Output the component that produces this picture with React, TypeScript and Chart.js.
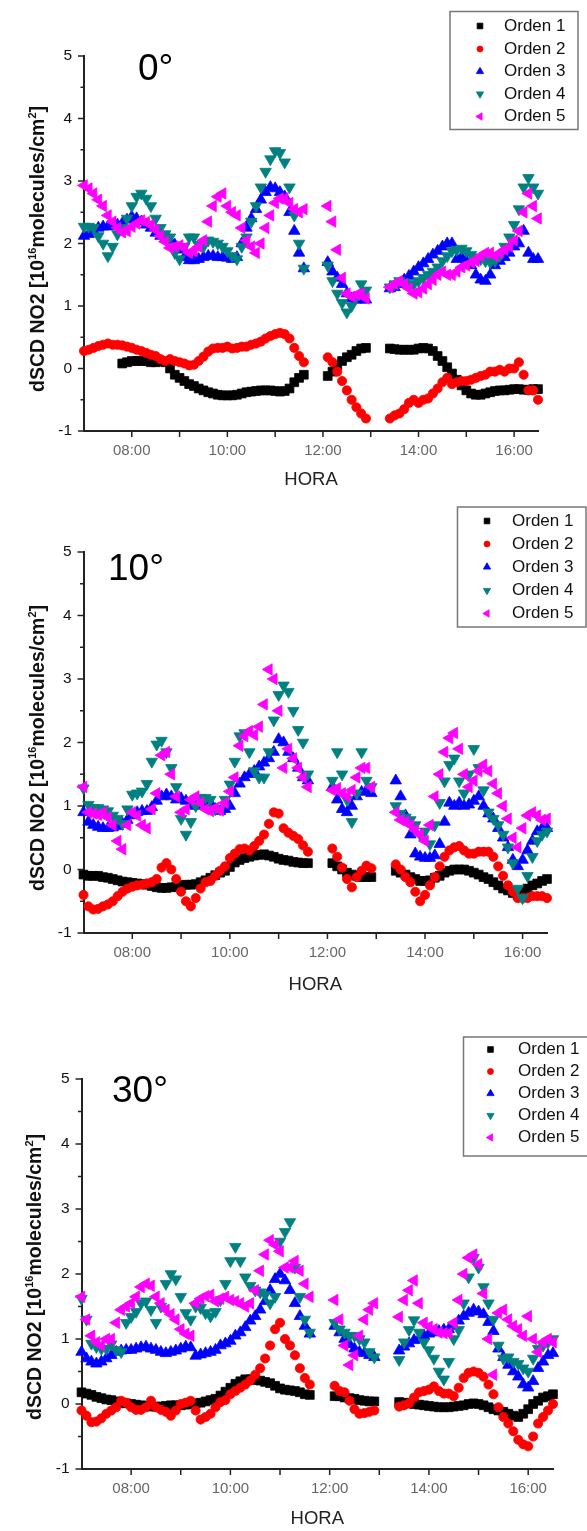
import React, { useEffect, useRef } from "react";
import { Chart, registerables } from "chart.js";
import { drawPoint } from "chart.js/helpers";

Chart.register(...registerables);

// ---------- DATA ----------
const HOURS = [
  7.0, 7.1, 7.2, 7.3, 7.4, 7.5, 7.6, 7.7, 7.8, 7.9,
  8.0, 8.1, 8.2, 8.3, 8.4, 8.5, 8.6, 8.7, 8.8, 8.9,
  9.0, 9.1, 9.2, 9.3, 9.4, 9.5, 9.6, 9.7, 9.8, 9.9,
  10.0, 10.1, 10.2, 10.3, 10.4, 10.5, 10.6, 10.7, 10.8, 10.9,
  11.0, 11.1, 11.2, 11.3, 11.4, 11.5, 11.6,
  12.1, 12.2, 12.3, 12.4, 12.5, 12.6, 12.7, 12.8, 12.9,
  13.4, 13.5, 13.6, 13.7, 13.8, 13.9,
  14.0, 14.1, 14.2, 14.3, 14.4, 14.5, 14.6, 14.7, 14.8, 14.9,
  15.0, 15.1, 15.2, 15.3, 15.4, 15.5, 15.6, 15.7, 15.8, 15.9,
  16.0, 16.1, 16.2, 16.3, 16.4, 16.5,
];

const SERIES_NAMES = ["Orden 1", "Orden 2", "Orden 3", "Orden 4", "Orden 5"];
const PANEL_TITLES = ["0°", "10°", "30°"];
const Y_LABEL_VALUES = [-1, 0, 1, 2, 3, 4, 5];
const X_TICK_HOURS = [7, 8, 9, 10, 11, 12, 13, 14, 15, 16];
const X_LABEL_HOURS = [8, 10, 12, 14, 16];
const X_TICK_LABELS = ["08:00", "10:00", "12:00", "14:00", "16:00"];
const X_AXIS_TITLE = "HORA";

// Panel 0° ---------------------------------------------------------------
const P0_ORDEN1 = [
  null, null, null, null, null, null, null, null, 0.08, 0.1,
  0.12, 0.12, 0.12, 0.12, 0.1, 0.1, 0.12, 0.1, 0.0, -0.1,
  -0.15, -0.2, -0.25, -0.28, -0.32, -0.35, -0.38, -0.4, -0.42, -0.43,
  -0.43, -0.43, -0.42, -0.4, -0.38, -0.37, -0.36, -0.35, -0.35, -0.35,
  -0.36, -0.37, -0.36, -0.32, -0.22, -0.15, -0.1,
  -0.12, -0.05, 0.05, 0.12, 0.18, 0.22, 0.28, 0.32, 0.33,
  0.32, 0.31, 0.3, 0.3, 0.3, 0.3,
  0.32, 0.33, 0.32, 0.28, 0.2, 0.12, 0.02, -0.08, -0.18, -0.27,
  -0.35, -0.4, -0.42, -0.42, -0.4, -0.38, -0.36, -0.35, -0.35, -0.34,
  -0.33, -0.33, -0.34, -0.34, -0.33, -0.33,
];
const P0_ORDEN2 = [
  0.28, 0.3, 0.33, 0.36, 0.38, 0.4, 0.38, 0.38, 0.37, 0.35,
  0.33, 0.3, 0.28, 0.25, 0.22, 0.2, 0.15, 0.12, 0.15, 0.12,
  0.1, 0.08, 0.05, 0.06, 0.12, 0.19, 0.27, 0.32, 0.33, 0.33,
  0.35, 0.32, 0.33, 0.35, 0.35, 0.38, 0.4, 0.43, 0.48, 0.52,
  0.55, 0.57, 0.55, 0.48, 0.33, 0.2, 0.1,
  0.18, 0.1, -0.05, -0.2, -0.35, -0.5, -0.62, -0.72, -0.8,
  -0.8, -0.75, -0.72, -0.65, -0.55, -0.5,
  -0.55, -0.5, -0.48, -0.4, -0.32, -0.22, -0.15, -0.25, -0.22, -0.2,
  -0.2, -0.18, -0.15, -0.12, -0.1, -0.05, -0.05, -0.02, -0.05, 0.0,
  0.0, 0.1, -0.1, -0.35, -0.35, -0.5,
];
const P0_ORDEN3 = [
  2.12, 2.15, 2.2, 2.25, 2.27, 2.27, 2.28, 2.3, 2.32, 2.38,
  2.43, 2.4, 2.35, 2.3, 2.25, 2.17, 2.12, 2.08, 2.05, 1.98,
  1.9, 1.78, 1.73, 1.73, 1.75, 1.78, 1.8, 1.8, 1.78, 1.78,
  1.77, 1.75, 1.78, 2.0, 2.25, 2.4, 2.55, 2.7, 2.82, 2.9,
  2.88, 2.82, 2.75, 2.5, 2.2, 1.85, 1.6,
  1.7, 1.55, 1.45, 1.35, 1.2, 1.12, 1.1, 1.1, 1.1,
  1.28, 1.3, 1.35, 1.42, 1.48, 1.55,
  1.62, 1.68, 1.75, 1.82, 1.88, 1.95, 2.0, 2.0, 1.75, 1.78,
  1.72, 1.65, 1.5, 1.42, 1.4, 1.5, 1.65, 1.72, 1.78, 1.85,
  1.95, 2.0, 2.2, 1.85, 1.75, 1.75,
];
const P0_ORDEN4 = [
  2.27, 2.27, 2.25, 2.12, 2.0, 1.8, 1.95, 2.15, 2.25, 2.4,
  2.6, 2.75, 2.8, 2.72, 2.6, 2.4, 2.25, 2.15, 2.1, 1.85,
  1.75, 1.95, 2.1, 2.1, 1.98, 1.95, 2.05, 2.03, 2.0, 1.95,
  1.88, 1.8, 1.75, 1.95, 2.1, 2.35, 2.6, 2.9, 3.15, 3.35,
  3.48, 3.45, 3.3, 2.9, 2.45, 2.0, 1.6,
  1.65, 1.4, 1.2, 1.05, 0.9, 1.0, 1.15, 1.35, 1.25,
  1.3, 1.35, 1.4, 1.38, 1.35, 1.35,
  1.4, 1.45, 1.5, 1.55, 1.62, 1.72, 1.8, 1.88, 1.9, 1.92,
  1.88, 1.82, 1.78, 1.75, 1.72, 1.7, 1.72, 1.8, 1.95, 2.1,
  2.3, 2.55, 2.9, 3.05, 2.9, 2.8,
];
const P0_ORDEN5 = [
  2.93, 2.88, 2.8, 2.7, 2.6, 2.45, 2.35, 2.25, 2.18, 2.2,
  2.27, 2.32, 2.37, 2.34, 2.3, 2.22, 2.12, 2.03, 1.93, 1.95,
  1.97, 1.93, 1.85, 1.88, 1.95, 2.05, 2.35, 2.6, 2.75, 2.8,
  2.6, 2.5, 2.45, 2.25, 2.05, 1.95, 1.85, 2.0, 2.25, 2.45,
  2.65, 2.72, 2.72, 2.65, 2.55, 2.5, 2.55,
  2.6, 2.35, 1.9, 1.45, 1.2, 1.15, 1.18, 1.2, 1.12,
  1.3, 1.35, 1.4, 1.35, 1.28, 1.2,
  1.22, 1.28, 1.35, 1.42, 1.5, 1.55, 1.5, 1.5, 1.55, 1.62,
  1.65, 1.7, 1.72, 1.8, 1.85, 1.85, 1.8, 1.85, 1.9, 1.95,
  2.05, 2.2, 2.5, 2.8, 2.6, 2.4,
];

// Panel 10° --------------------------------------------------------------
const P1_ORDEN1 = [
  -0.08, -0.1, -0.1, -0.1, -0.12, -0.13, -0.15, -0.17, -0.19, -0.2,
  -0.21, -0.22, -0.23, -0.24, -0.26, -0.28, -0.29, -0.29, -0.28, -0.27,
  -0.25, -0.24, -0.24, -0.23, -0.2, -0.17, -0.13, -0.09, -0.05, -0.02,
  0.04, 0.11, 0.15, 0.18, 0.2, 0.22, 0.23, 0.24, 0.22, 0.2,
  0.17, 0.15, 0.14, 0.12, 0.11, 0.1, 0.1,
  0.1, 0.05, 0.0, -0.05, -0.08, -0.1, -0.12, -0.12, -0.12,
  -0.02, -0.05, -0.08, -0.12, -0.15, -0.18,
  -0.18, -0.17, -0.13, -0.1, -0.05, -0.02, 0.0, 0.0, 0.0, -0.02,
  -0.05, -0.08, -0.12, -0.15, -0.2, -0.25, -0.3, -0.33, -0.37, -0.4,
  -0.35, -0.3, -0.25, -0.22, -0.18, -0.15,
];
const P1_ORDEN2 = [
  -0.4, -0.58, -0.63, -0.62, -0.58, -0.55, -0.5, -0.42, -0.35, -0.3,
  -0.27, -0.25, -0.24, -0.22, -0.2, -0.15, 0.03, 0.1, 0.0, -0.15,
  -0.35, -0.5, -0.58, -0.45, -0.3, -0.2, -0.18, -0.1, -0.02, 0.05,
  0.18, 0.25, 0.32, 0.33, 0.3, 0.37, 0.45, 0.55, 0.72, 0.9,
  0.88, 0.65, 0.58, 0.53, 0.48, 0.38, 0.28,
  0.33, 0.2, 0.03, -0.15, -0.28, -0.12, -0.02, 0.06, 0.02,
  0.08, 0.0, -0.12, -0.2, -0.35, -0.5,
  -0.4, -0.25, -0.12, 0.05, 0.2, 0.3, 0.35, 0.37, 0.3, 0.25,
  0.25, 0.28, 0.28, 0.28, 0.2, 0.05, -0.1, -0.25, -0.35, -0.45,
  -0.45, -0.45, -0.42, -0.42, -0.42, -0.45,
];
const P1_ORDEN3 = [
  0.9, 0.75, 0.7, 0.67, 0.65, 0.65, 0.66, 0.68, 0.72, 0.78,
  0.85, 0.9, 0.92, 0.92, 0.98, 1.08, 1.15, 1.18, 1.15, 1.1,
  1.12, 1.08, 1.02, 1.0, 1.05, 1.08, 1.05, 0.95, 0.92, 0.95,
  1.0, 1.2, 1.35, 1.45, 1.5, 1.55, 1.62, 1.68, 1.75, 1.85,
  2.05, 2.0, 1.85, 1.75, 1.6, 1.45, 1.4,
  1.3, 1.1, 0.95, 0.9, 1.0, 1.15, 1.22, 1.25, 1.2,
  1.4, 1.15, 0.85, 0.55, 0.25, 0.2,
  0.18, 0.18, 0.22, 0.4, 0.75, 1.05, 1.0, 1.05, 1.0, 1.02,
  1.08, 1.15, 1.0, 0.88, 0.8, 0.65, 0.5, 0.35, 0.15, 0.05,
  0.15, 0.3, 0.45, 0.6, 0.65, 0.65,
];
const P1_ORDEN4 = [
  1.28, 1.02, 0.97, 0.97, 0.95, 0.92, 0.85, 0.8, 0.72, 0.95,
  1.18, 1.2, 1.23, 1.35, 1.7, 1.97, 2.03, 1.85, 1.6, 1.3,
  0.8, 0.55, 0.75, 1.0, 1.13, 1.13, 1.1, 0.95, 0.95, 1.1,
  1.34, 1.7, 2.1, 2.15, 1.85, 1.55, 1.45, 1.45, 1.85, 2.35,
  2.75, 2.9, 2.8, 2.5, 2.2, 2.0, 1.5,
  1.4, 1.85, 1.5, 1.1, 0.75, 1.2, 1.85, 1.4, 1.3,
  1.0, 0.88, 0.82, 0.78, 0.7, 0.55,
  0.6, 0.4, 0.7, 1.05, 1.39, 1.65, 1.75, 1.39, 1.2, 1.5,
  1.9, 1.6, 1.25, 0.9, 0.8, 0.7, 0.55, 0.35, 0.1, -0.3,
  -0.45, -0.1, 0.2, 0.45, 0.55, 0.6,
];
const P1_ORDEN5 = [
  1.3, 0.9, 0.88, 0.86, 0.9, 0.82, 0.7, 0.45, 0.32, 0.7,
  0.9, 0.85, 0.7, 0.65, 0.95, 1.2, 1.8, 1.85, 1.5, 1.15,
  0.9, 0.95, 1.1, 1.15, 1.05, 0.95, 0.92, 0.97, 0.93, 1.05,
  1.23, 1.45, 1.95, 2.1, 2.18, 2.12, 2.25, 2.6, 3.15, 3.0,
  2.5, 1.6, 1.9, 1.75, 1.6, 1.45, 1.3,
  1.25, 1.28, 1.2, 1.15, 1.25, 1.45, 1.6, 1.6, 1.3,
  0.9, 0.78, 0.75, 0.7, 0.62, 0.55,
  0.45, 0.7, 1.15, 1.5, 1.85, 2.07, 2.15, 1.9, 1.5, 1.3,
  1.4, 1.55, 1.65, 1.55, 1.35, 1.2, 1.0, 0.8, 0.5, 0.35,
  0.65, 0.85, 0.9, 0.85, 0.78, 0.8,
];

// Panel 30° --------------------------------------------------------------
const P2_ORDEN1 = [
  0.18, 0.16, 0.14, 0.11, 0.09, 0.07, 0.06, 0.04, 0.02, 0.01,
  0.0, -0.01, -0.02, -0.03, -0.04, -0.04, -0.04, -0.03, -0.02, -0.02,
  -0.02, -0.01, 0.0, 0.01, 0.02, 0.04, 0.06, 0.08, 0.13, 0.19,
  0.25, 0.31, 0.35, 0.38, 0.38, 0.37, 0.36, 0.34, 0.32, 0.28,
  0.24, 0.22, 0.21, 0.2, 0.18, 0.15, 0.14,
  0.12, 0.12, 0.1, 0.09, 0.08, 0.06, 0.05, 0.04, 0.04,
  0.03, 0.02, 0.01, 0.0, -0.01, -0.02,
  -0.03, -0.04, -0.05, -0.05, -0.05, -0.04, -0.03, -0.02, 0.0, 0.01,
  0.0, -0.02, -0.05, -0.08, -0.1, -0.12, -0.15, -0.18, -0.2, -0.15,
  -0.08, 0.0, 0.05, 0.1, 0.12, 0.15,
];
const P2_ORDEN2 = [
  -0.1, -0.18, -0.28, -0.27, -0.22, -0.15, -0.1, -0.05, 0.05, 0.02,
  -0.05, -0.09, -0.09, -0.05, 0.05, -0.05, -0.09, -0.12, -0.18, -0.1,
  0.0, 0.02, 0.05, -0.1, -0.24, -0.2, -0.15, -0.05, 0.03, 0.06,
  0.15, 0.2, 0.25, 0.3, 0.36, 0.45, 0.55, 0.7, 0.9, 1.15,
  1.25, 1.0, 0.9, 0.75, 0.55, 0.4, 0.3,
  0.28, 0.2, 0.18, 0.05, -0.08, -0.15, -0.14, -0.12, -0.1,
  -0.04, -0.02, 0.01, 0.1, 0.18, 0.2,
  0.22, 0.27, 0.2, 0.16, 0.16, 0.12, 0.25, 0.4, 0.48, 0.5,
  0.48, 0.42, 0.3, 0.15, -0.05, -0.2, -0.3, -0.42, -0.55, -0.62,
  -0.65, -0.5, -0.3, -0.2, -0.1, 0.0,
];
const P2_ORDEN3 = [
  0.8, 0.7, 0.65, 0.62, 0.65, 0.7, 0.75, 0.8, 0.82, 0.83,
  0.83, 0.85, 0.87, 0.88, 0.85, 0.83, 0.8, 0.78, 0.8, 0.82,
  0.85, 0.88, 0.87, 0.74, 0.76, 0.78, 0.8, 0.83, 0.9, 0.93,
  0.97, 1.05, 1.1, 1.18, 1.28, 1.35, 1.45, 1.58, 1.75, 1.92,
  2.0, 1.9, 1.75, 1.55, 1.35, 1.2, 1.08,
  1.2, 1.1, 1.0, 0.92, 0.85, 0.8, 0.78, 0.75, 0.72,
  0.82, 0.88, 0.93, 0.98, 1.0, 1.05,
  1.08, 1.1, 1.12, 1.14, 1.15, 1.2, 1.28, 1.35, 1.4, 1.45,
  1.42, 1.38, 1.26, 1.12, 0.85, 0.72, 0.6, 0.5, 0.42, 0.3,
  0.25, 0.35, 0.55, 0.65, 0.75, 0.78,
];
const P2_ORDEN4 = [
  1.62, 1.3, 0.93, 0.88, 0.85, 0.85, 0.92, 0.83, 0.8, 1.25,
  1.34, 1.42, 1.55, 1.58, 1.45, 1.25, 1.5, 1.85, 2.0, 1.92,
  1.65, 1.4, 1.3, 1.5, 1.48, 1.4, 1.35, 1.42, 1.6, 1.85,
  2.2, 2.42, 2.2, 1.95, 1.82, 1.75, 1.72, 1.68, 1.55, 1.65,
  2.5, 2.65, 2.8, 2.1, 1.65, 1.3, 1.1,
  1.25, 1.15, 1.1, 1.05, 1.05, 1.0, 0.95, 0.8, 0.72,
  0.68, 0.95, 1.14, 1.29, 1.1, 0.95,
  0.83, 0.7, 0.5, 0.38, 0.65, 1.0, 1.14, 1.55, 1.95, 2.25,
  2.1, 1.8, 1.55, 1.3, 0.9, 0.7, 0.72, 0.65, 0.62, 0.55,
  0.5, 0.7, 0.85, 0.9, 0.95, 1.0,
];
const P2_ORDEN5 = [
  1.65, 1.3, 1.05, 0.95, 0.9, 1.0, 1.0, 1.25, 1.45, 1.5,
  1.55, 1.65, 1.8, 1.85, 1.82, 1.65, 1.55, 1.45, 1.38, 1.3,
  1.15, 1.08, 1.05, 1.55, 1.62, 1.66, 1.68, 1.58, 1.62, 1.65,
  1.6, 1.58, 1.55, 1.5, 1.55, 1.75, 2.05, 2.3, 2.52, 2.45,
  2.35, 2.1, 2.1, 2.2, 2.05, 1.85, 1.65,
  1.6, 1.3, 0.9, 0.6, 0.75, 1.05, 1.3, 1.45, 1.55,
  1.34, 1.6, 1.75, 1.9, 1.55, 1.25,
  1.19, 1.15, 1.1, 1.09, 1.09, 1.25, 1.6, 2.0, 2.25, 2.3,
  2.15, 1.7, 1.0, 0.45, 1.4, 1.45, 1.3, 1.2, 1.15, 1.05,
  1.35, 1.0, 0.8, 0.95, 1.0, 0.95,
];

// ---------- STYLE / LAYOUT ----------
const FONT = '"Liberation Sans", Arial, Helvetica, sans-serif';
const AXIS = "#222222";
const COLORS = ["#000000", "#ff0000", "#0000ff", "#008080", "#ff00ff"];
const MARKERS = [
  { pointStyle: "rect", radius: 6.2, rotation: 0, legendRadius: 4.0 },
  { pointStyle: "circle", radius: 4.6, rotation: 0, legendRadius: 3.0 },
  { pointStyle: "triangle", radius: 6.6, rotation: 0, legendRadius: 4.2 },
  { pointStyle: "triangle", radius: 6.6, rotation: 180, legendRadius: 4.2 },
  { pointStyle: "triangle", radius: 6.6, rotation: 270, legendRadius: 4.2 },
];
const PAGE_W = 587;

const PANELS = [
  {
    title: PANEL_TITLES[0],
    series: [P0_ORDEN1, P0_ORDEN2, P0_ORDEN3, P0_ORDEN4, P0_ORDEN5],
    top: 0, height: 500,
    area: { left: 84, right: 538, top: 56, bottom: 431 },
    titleX: 138, titleY: 70,
    legend: { x: 450, y: 11.5, w: 128, h: 118, rows: [26, 49, 71.5, 94, 116.5], markerX: 480, textX: 504 },
    yTitle: { x: 37, y: 249 },
    horaY: 480,
  },
  {
    title: PANEL_TITLES[1],
    series: [P1_ORDEN1, P1_ORDEN2, P1_ORDEN3, P1_ORDEN4, P1_ORDEN5],
    top: 500, height: 510,
    area: { left: 83.5, right: 547, top: 552, bottom: 933 },
    titleX: 108, titleY: 570,
    legend: { x: 457.5, y: 507, w: 128.5, h: 120, rows: [521, 544, 567, 590.5, 613.5], markerX: 487, textX: 512 },
    yTitle: { x: 37, y: 748 },
    horaY: 985,
  },
  {
    title: PANEL_TITLES[2],
    series: [P2_ORDEN1, P2_ORDEN2, P2_ORDEN3, P2_ORDEN4, P2_ORDEN5],
    top: 1010, height: 521,
    area: { left: 81.5, right: 553, top: 1079, bottom: 1469 },
    titleX: 112, titleY: 1092,
    legend: { x: 463.5, y: 1037, w: 140, h: 119, rows: [1049.5, 1071.5, 1093.5, 1115.5, 1137.5], markerX: 490.5, textX: 518 },
    yTitle: { x: 34, y: 1277 },
    horaY: 1519,
  },
];

function drawYTitle(ctx: CanvasRenderingContext2D, cx: number, cy: number) {
  const size = 19.5;
  const sup = 11;
  const parts: [string, boolean][] = [
    ["dSCD NO2 [10", false],
    ["16", true],
    ["molecules/cm", false],
    ["2", true],
    ["]", false],
  ];
  ctx.save();
  ctx.translate(cx, cy);
  ctx.rotate(-Math.PI / 2);
  ctx.fillStyle = "#111";
  ctx.textBaseline = "alphabetic";
  ctx.textAlign = "left";
  let total = 0;
  const widths = parts.map(([t, s]) => {
    ctx.font = `bold ${s ? sup : size}px ${FONT}`;
    const w = ctx.measureText(t).width;
    total += w;
    return w;
  });
  let x = -total / 2;
  const base = size * 0.36;
  parts.forEach(([t, s], i) => {
    ctx.font = `bold ${s ? sup : size}px ${FONT}`;
    ctx.fillText(t, x, s ? base - size * 0.42 : base);
    x += widths[i];
  });
  ctx.restore();
}

function makeOverlay(panel: any) {
  return {
    id: "overlay",
    afterDraw(chart: any) {
      const ctx: CanvasRenderingContext2D = chart.ctx;
      const xs = chart.scales.x;
      const ys = chart.scales.y;
      const off = -panel.top;
      ctx.save();
      // tick marks
      ctx.strokeStyle = AXIS;
      ctx.lineWidth = 1.5;
      ctx.beginPath();
      ys.ticks.forEach((t: any) => {
        const py = ys.getPixelForValue(t.value);
        const len = Y_LABEL_VALUES.includes(t.value) ? 6 : 3.5;
        ctx.moveTo(xs.left - len, py);
        ctx.lineTo(xs.left, py);
      });
      xs.ticks.forEach((t: any) => {
        if (t.value <= xs.min) return;
        const px = xs.getPixelForValue(t.value);
        ctx.moveTo(px, ys.bottom);
        ctx.lineTo(px, ys.bottom + 6);
      });
      ctx.stroke();

      // panel title
      ctx.fillStyle = "#000";
      ctx.font = `37px ${FONT}`;
      ctx.textAlign = "left";
      ctx.textBaseline = "middle";
      ctx.fillText(panel.title, panel.titleX, panel.titleY + off);

      // x-axis title
      ctx.font = `18.5px ${FONT}`;
      ctx.fillStyle = "#222";
      ctx.textAlign = "center";
      ctx.fillText(X_AXIS_TITLE, (xs.left + xs.right) / 2, panel.horaY + off);

      // y-axis title
      drawYTitle(ctx, panel.yTitle.x, panel.yTitle.y + off);

      // legend
      const L = panel.legend;
      ctx.fillStyle = "#ffffff";
      ctx.fillRect(L.x, L.y + off, L.w, L.h);
      ctx.strokeStyle = "#777";
      ctx.lineWidth = 1.5;
      ctx.strokeRect(L.x, L.y + off, L.w, L.h);
      SERIES_NAMES.forEach((name, i) => {
        const yy = L.rows[i] + off;
        ctx.fillStyle = COLORS[i];
        ctx.strokeStyle = COLORS[i];
        ctx.lineWidth = 0.8;
        drawPoint(ctx, {
          pointStyle: MARKERS[i].pointStyle,
          rotation: MARKERS[i].rotation,
          radius: MARKERS[i].legendRadius,
          borderWidth: 0.8,
        } as any, L.markerX, yy);
        ctx.fillStyle = "#111";
        ctx.font = `17px ${FONT}`;
        ctx.textAlign = "left";
        ctx.textBaseline = "middle";
        ctx.fillText(name, L.textX, yy);
      });
      ctx.restore();
    },
  };
}

function PanelChart({ panel }: { panel: any }) {
  const ref = useRef<HTMLCanvasElement | null>(null);
  useEffect(() => {
    const canvas = ref.current;
    if (!canvas) return;
    const a = panel.area;
    const datasets = panel.series.map((vals: (number | null)[], i: number) => ({
      label: SERIES_NAMES[i],
      data: HOURS.map((h, j) => ({ x: h, y: vals[j] })).filter((p) => p.y !== null),
      pointBackgroundColor: COLORS[i],
      pointBorderColor: COLORS[i],
      backgroundColor: COLORS[i],
      borderColor: COLORS[i],
      pointBorderWidth: 0.8,
      pointStyle: MARKERS[i].pointStyle,
      pointRadius: MARKERS[i].radius,
      pointRotation: MARKERS[i].rotation,
      showLine: false,
      order: 4 - i,
      clip: false,
    }));
    const chart = new Chart(canvas, {
      type: "scatter",
      data: { datasets },
      options: {
        responsive: false,
        animation: false,
        events: [],
        layout: {
          autoPadding: false,
          padding: { left: 0, top: a.top - panel.top, right: PAGE_W - a.right, bottom: 0 },
        },
        plugins: {
          legend: { display: false },
          tooltip: { enabled: false },
          title: { display: false },
        },
        scales: {
          x: {
            type: "linear",
            min: 7,
            max: 16.5,
            afterFit: (s: any) => {
              s.height = panel.top + panel.height - a.bottom;
            },
            afterBuildTicks: (s: any) => {
              s.ticks = X_TICK_HOURS.map((v) => ({ value: v }));
            },
            grid: { display: false, drawTicks: false },
            border: { display: true, color: AXIS, width: 2 },
            ticks: {
              autoSkip: false,
              maxRotation: 0,
              padding: 11,
              color: "#666",
              font: { family: FONT, size: 15 },
              callback: (v: any) => {
                const k = X_LABEL_HOURS.indexOf(Number(v));
                return k >= 0 ? X_TICK_LABELS[k] : "";
              },
            },
          },
          y: {
            type: "linear",
            min: -1,
            max: 5,
            afterFit: (s: any) => {
              s.width = a.left;
            },
            grid: { display: false, drawTicks: false },
            border: { display: true, color: AXIS, width: 2 },
            ticks: {
              stepSize: 0.5,
              autoSkip: false,
              padding: 12,
              color: "#111",
              font: { family: FONT, size: 15.5 },
              callback: (v: any) => (Y_LABEL_VALUES.includes(Number(v)) ? String(v) : ""),
            },
          },
        },
      } as any,
      plugins: [makeOverlay(panel)],
    });
    return () => chart.destroy();
  }, [panel]);
  return (
    <canvas
      ref={ref}
      width={PAGE_W}
      height={panel.height}
      style={{ position: "absolute", left: 0, top: panel.top, width: PAGE_W, height: panel.height }}
    />
  );
}

export default function App() {
  return (
    <div style={{ position: "absolute", left: 0, top: 0, width: PAGE_W, height: 1531, background: "#fff", overflow: "hidden" }}>
      {PANELS.map((p, i) => (
        <PanelChart key={i} panel={p} />
      ))}
    </div>
  );
}
